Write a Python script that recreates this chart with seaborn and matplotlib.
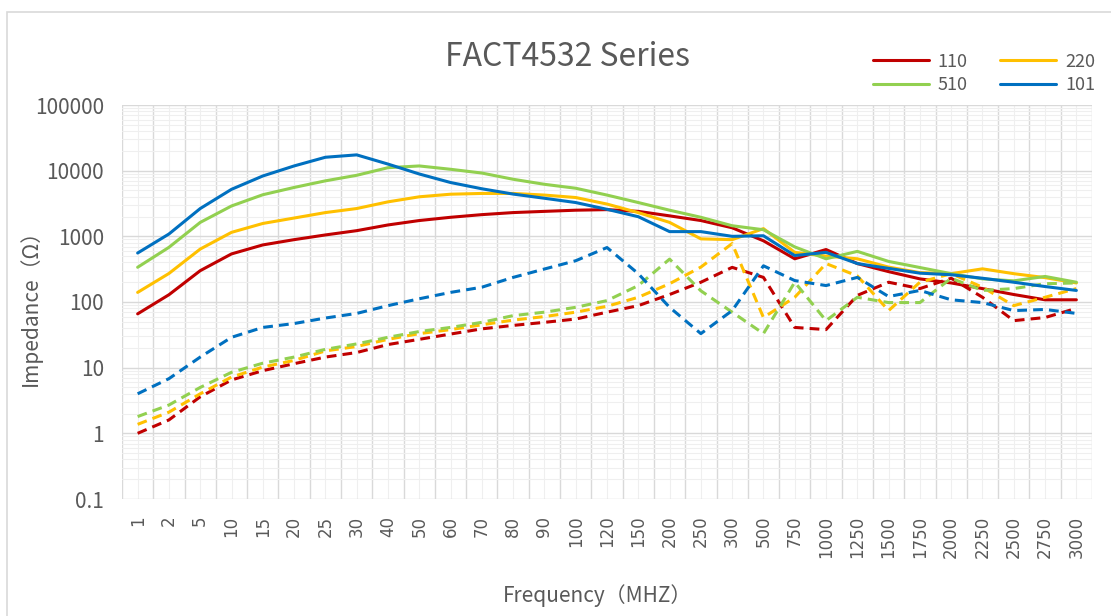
import matplotlib.pyplot as plt
import matplotlib.ticker as ticker
from matplotlib.lines import Line2D
from matplotlib.patches import Rectangle
import numpy as np
import pandas as pd
import seaborn as sns

freqs = ['1', '2', '5', '10', '15', '20', '25', '30', '40', '50', '60', '70',
         '80', '90', '100', '120', '150', '200', '250', '300', '500', '750',
         '1000', '1250', '1500', '1750', '2000', '2250', '2500', '2750', '3000']

# solid curves (impedance)
z_110 = [66, 129, 300, 540, 740, 890, 1050, 1220, 1490, 1740, 1950, 2140,
         2300, 2400, 2500, 2550, 2400, 2050, 1740, 1350, 855, 455,
         630, 385, 290, 225, 195, 160, 130, 108, 108]
z_220 = [140, 272, 640, 1150, 1570, 1900, 2300, 2650, 3350, 4000, 4380, 4500,
         4500, 4250, 3900, 3100, 2300, 1630, 915, 890, 1310, 570,
         500, 455, 340, 280, 270, 320, 270, 235, 195]
z_510 = [338, 680, 1630, 2900, 4300, 5550, 7000, 8500, 11100, 11800, 10500, 9200,
         7400, 6200, 5400, 4250, 3270, 2500, 1950, 1450, 1260, 690,
         455, 590, 415, 335, 270, 225, 210, 245, 200]
z_101 = [557, 1085, 2650, 5200, 8300, 11800, 16000, 17400, 12600, 8900, 6600, 5300,
         4400, 3800, 3270, 2580, 1990, 1180, 1180, 1000, 1020, 510,
         570, 385, 325, 275, 260, 230, 200, 172, 150]

# dashed curves
d_110 = [1.0, 1.6, 3.6, 6.5, 9.0, 11.5, 14.5, 17, 22.5, 27, 32.5, 39,
         44, 49, 55, 70, 88, 130, 200, 337, 237, 41,
         38, 126, 200, 160, 230, 118, 52, 58, 80]
d_220 = [1.37, 2.1, 4.0, 7.2, 10.2, 12.9, 18, 21, 27, 33, 38, 45,
         53, 60, 70, 86, 118, 190, 340, 776, 58, 118,
         385, 250, 74, 200, 270, 168, 88, 118, 160]
d_510 = [1.8, 2.7, 5.0, 8.5, 11.7, 14.5, 19, 23, 29, 35.5, 41, 49,
         62, 70, 83, 105, 178, 450, 148, 70, 33, 200,
         52, 118, 98, 98, 230, 150, 160, 190, 195]
d_101 = [4.0, 6.8, 14.5, 29, 41, 47, 57, 67, 88, 112, 140, 168,
         237, 318, 425, 675, 270, 83, 33, 74, 356, 212,
         178, 237, 121, 150, 108, 98, 74, 77, 67]

parts = ['110', '220', '510', '101']
colors = {'110': '#C00000', '220': '#FFC000', '510': '#92D050', '101': '#0070C0'}

rows = []
for part, z, d in zip(parts, [z_110, z_220, z_510, z_101], [d_110, d_220, d_510, d_101]):
    for f, a, b in zip(freqs, z, d):
        rows.append({'freq': f, 'value': a, 'part': part, 'curve': 'Z'})
        rows.append({'freq': f, 'value': b, 'part': part, 'curve': 'X'})
df = pd.DataFrame(rows)

sns.set_theme(style='white')
plt.rcParams['font.family'] = ['Noto Sans CJK SC', 'DejaVu Sans']
gray = '#595959'

fig = plt.figure(figsize=(11.11, 6.16), dpi=100)
# chart area border (extends past the right and bottom edges)
fig.patches.append(Rectangle((7 / 1111, -0.1), 1.2, 1.1 - 12 / 616,
                             transform=fig.transFigure, fill=False,
                             edgecolor='#d9d9d9', linewidth=1.2))
ax = fig.add_axes([122 / 1111, 1 - 499 / 616, (1092 - 122) / 1111, (499 - 105) / 616])

sns.lineplot(data=df, x='freq', y='value', hue='part', style='curve',
             palette=colors, dashes={'Z': '', 'X': (3.2, 2.0)},
             style_order=['Z', 'X'], linewidth=2.2, sort=False,
             legend=False, ax=ax)

ax.set_yscale('log')
ax.set_ylim(0.1, 100000)
ax.set_xlim(-0.5, len(freqs) - 0.5)
ax.yaxis.set_major_locator(ticker.LogLocator(base=10, numticks=10))
ax.yaxis.set_minor_locator(ticker.LogLocator(base=10, subs=np.arange(2, 10), numticks=10))
ax.yaxis.set_major_formatter(ticker.FuncFormatter(lambda v, p: f'{v:g}'))
ax.yaxis.set_minor_formatter(ticker.NullFormatter())

ax.set_xticks(range(len(freqs)), labels=freqs, rotation=90)
ax.xaxis.set_minor_locator(ticker.FixedLocator(np.arange(-0.5, len(freqs), 1)))

ax.set_axisbelow(True)
ax.grid(which='major', axis='y', color='#d9d9d9', linewidth=1.0)
ax.grid(which='minor', axis='y', color='#efefef', linewidth=0.8)
ax.grid(which='minor', axis='x', color='#d9d9d9', linewidth=1.0)
ax.grid(which='major', axis='x', color='#efefef', linewidth=0.8)
for s in ax.spines.values():
    s.set_visible(False)
ax.tick_params(which='both', length=0)
ax.tick_params(axis='y', labelsize=15, labelcolor=gray, pad=13)
ax.tick_params(axis='x', labelsize=12, labelcolor=gray, pad=12)
for lbl in ax.get_xticklabels():
    lbl.set_family('DejaVu Sans')

ax.set_xlabel('Frequency（MHZ）', fontsize=15, color=gray)
ax.set_ylabel('Impedance（Ω）', fontsize=15, color=gray)
ax.xaxis.label.set_va('center')
ax.xaxis.set_label_coords(0.49, -(596 - 499) / 394)
ax.yaxis.set_label_coords(-(122 - 42) / 970, 0.5)

fig.text(567 / 1111, 1 - 57 / 616, 'FACT4532 Series', ha='center', va='center',
         fontsize=23, color=gray)

order = ['110', '510', '220', '101']
handles = [Line2D([0], [0], color=colors[p], linewidth=2.2) for p in order]
leg = fig.legend(handles, order, loc='center', bbox_to_anchor=(984 / 1111, 1 - 73.5 / 616),
                 ncol=2, frameon=False, fontsize=13, handlelength=3.1,
                 handletextpad=0.5, columnspacing=1.8, labelspacing=0.3)
for t in leg.get_texts():
    t.set_color(gray)

fig.savefig('out.png', dpi=100)
